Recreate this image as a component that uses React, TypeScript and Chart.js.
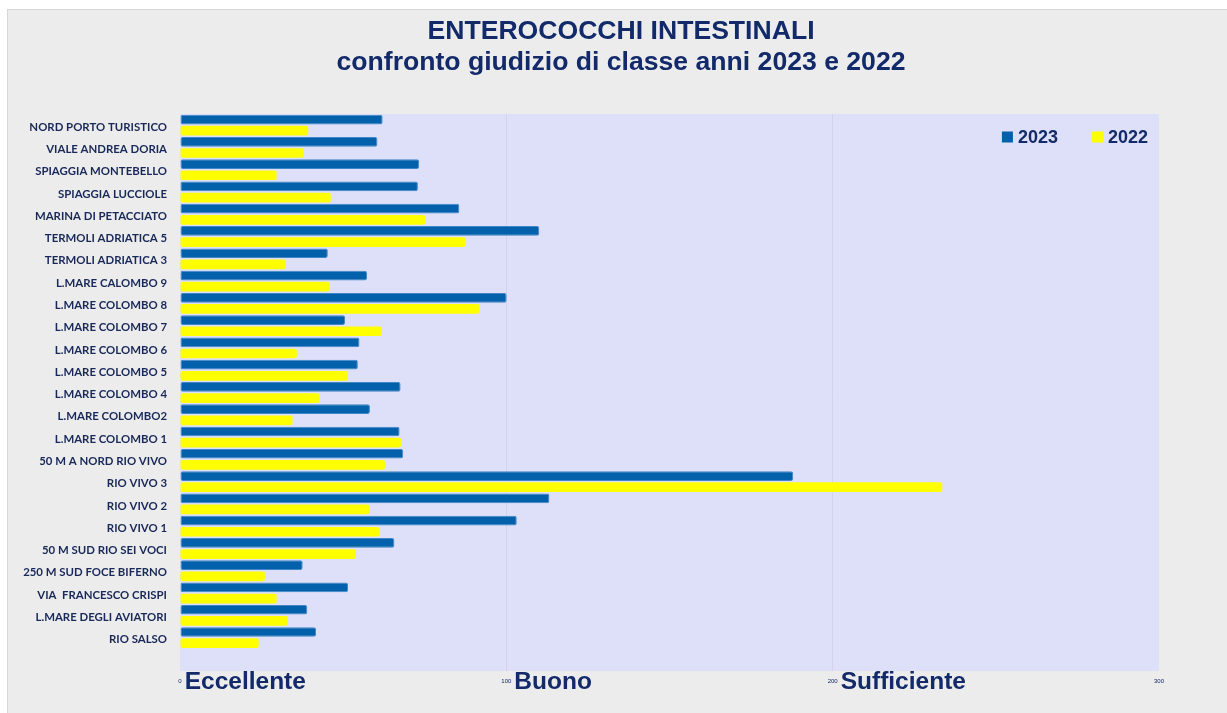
import React, { useEffect, useRef } from "react";
import { Chart, registerables } from "chart.js";

Chart.register(...registerables);

const categories = [
  "NORD PORTO TURISTICO",
  "VIALE ANDREA DORIA",
  "SPIAGGIA MONTEBELLO",
  "SPIAGGIA LUCCIOLE",
  "MARINA DI PETACCIATO",
  "TERMOLI ADRIATICA 5",
  "TERMOLI ADRIATICA 3",
  "L.MARE CALOMBO 9",
  "L.MARE COLOMBO 8",
  "L.MARE COLOMBO 7",
  "L.MARE COLOMBO 6",
  "L.MARE COLOMBO 5",
  "L.MARE COLOMBO 4",
  "L.MARE COLOMBO2",
  "L.MARE COLOMBO 1",
  "50 M A NORD RIO VIVO",
  "RIO VIVO 3",
  "RIO VIVO 2",
  "RIO VIVO 1",
  "50 M SUD RIO SEI VOCI",
  "250 M SUD FOCE BIFERNO",
  "VIA  FRANCESCO CRISPI",
  "L.MARE DEGLI AVIATORI",
  "RIO SALSO",
  "",
];

const values2023 = [
  62.1, 60.5, 73.3, 72.9, 85.6, 110.1, 45.3, 57.3, 100.1, 50.6, 55.0, 54.5,
  67.6, 58.2, 67.3, 68.4, 187.9, 113.2, 103.2, 65.7, 37.6, 51.5, 39.0, 41.7,
  null,
];

const values2022 = [
  39.3, 37.8, 29.6, 46.2, 75.2, 87.5, 32.4, 45.8, 91.7, 61.8, 35.8, 51.4,
  42.6, 34.5, 67.7, 62.8, 233.6, 58.0, 61.1, 53.9, 26.0, 29.6, 32.9, 24.1,
  null,
];

const xTicks = [0, 100, 200, 300];
const classLabels: [number, string][] = [
  [0, "Eccellente"],
  [100, "Buono"],
  [200, "Sufficiente"],
];

const titleLines = [
  "ENTEROCOCCHI INTESTINALI",
  "confronto giudizio di classe anni 2023 e 2022",
];

const NAVY = "#12296a";
const LABEL_NAVY = "#182858";

const plotBgPlugin = {
  id: "plotBg",
  beforeDraw(chart: any) {
    const { ctx, chartArea } = chart;
    ctx.save();
    ctx.fillStyle = "#dedff8";
    ctx.fillRect(
      chartArea.left,
      chartArea.top,
      chartArea.right - chartArea.left,
      chartArea.bottom - chartArea.top
    );
    ctx.restore();
  },
};

const titlePlugin = {
  id: "twoLineTitle",
  afterDraw(chart: any) {
    const { ctx } = chart;
    ctx.save();
    ctx.font = "bold 26.6px 'Liberation Sans', Arial, sans-serif";
    ctx.fillStyle = NAVY;
    ctx.textAlign = "center";
    ctx.textBaseline = "middle";
    const cx = 621;
    titleLines.forEach((line, i) => {
      ctx.fillText(line, cx, 31.5 + i * 31);
    });
    ctx.restore();
  },
};

const classLabelPlugin = {
  id: "classLabels",
  afterDraw(chart: any) {
    const { ctx, chartArea } = chart;
    const xs = chart.scales.x;
    ctx.save();
    ctx.font = "6px 'Liberation Sans', Arial, sans-serif";
    const tickWidths = classLabels.map(([v]) => ctx.measureText(String(v)).width);
    ctx.font = "bold 24.5px 'Liberation Sans', Arial, sans-serif";
    ctx.fillStyle = NAVY;
    ctx.textBaseline = "middle";
    ctx.textAlign = "left";
    classLabels.forEach(([v, word], i) => {
      const px = xs.getPixelForValue(v) + tickWidths[i] / 2 + 3;
      ctx.fillText(word, px, chartArea.bottom + 11);
    });
    ctx.restore();
  },
};

const legendPlugin = {
  id: "customLegend",
  afterDraw(chart: any) {
    const { ctx, chartArea } = chart;
    const ds = chart.data.datasets;
    ctx.save();
    ctx.font = "bold 18px 'Liberation Sans', Arial, sans-serif";
    ctx.textBaseline = "middle";
    const box = 11;
    const gap = 5;
    const itemGap = 34;
    const widths = ds.map((d: any) => box + gap + ctx.measureText(d.label).width);
    const total = widths.reduce((a: number, b: number) => a + b, 0) + itemGap * (ds.length - 1);
    let x = chartArea.right - 11 - total;
    const cy = chartArea.top + 23;
    ds.forEach((d: any, i: number) => {
      ctx.fillStyle = d.backgroundColor;
      ctx.fillRect(x, cy - box / 2, box, box);
      ctx.fillStyle = NAVY;
      ctx.textAlign = "left";
      ctx.fillText(d.label, x + box + gap, cy + 1);
      x += widths[i] + itemGap;
    });
    ctx.restore();
  },
};

export default function App() {
  const canvasRef = useRef<HTMLCanvasElement | null>(null);

  useEffect(() => {
    if (!canvasRef.current) return;
    const chart = new Chart(canvasRef.current, {
      type: "bar",
      data: {
        labels: categories,
        datasets: [
          {
            label: "2023",
            data: values2023,
            backgroundColor: "#0360aa",
            borderColor: "#3f86c8",
            borderWidth: 1,
            borderRadius: 2,
            borderSkipped: false,
          },
          {
            label: "2022",
            data: values2022,
            backgroundColor: "#ffff00",
            borderWidth: 0,
            borderRadius: 2,
            borderSkipped: false,
          },
        ],
      },
      options: {
        indexAxis: "y",
        animation: false,
        responsive: false,
        maintainAspectRatio: false,
        layout: { padding: { left: 0, right: 68, top: 114, bottom: 0 } },
        datasets: {
          bar: { categoryPercentage: 1, barPercentage: 0.87 },
        },
        scales: {
          x: {
            type: "linear",
            min: 0,
            max: 300,
            afterFit: (scale: any) => {
              scale.height = 42;
            },
            afterBuildTicks: (scale: any) => {
              scale.ticks = xTicks.map((v) => ({ value: v }));
            },
            ticks: {
              padding: 7,
              color: NAVY,
              font: { family: "'Liberation Sans', Arial, sans-serif", size: 6 },
            },
            grid: {
              display: true,
              drawTicks: false,
              color: (ctx: any) =>
                ctx.tick && (ctx.tick.value === 0 || ctx.tick.value === 300)
                  ? "rgba(0,0,0,0)"
                  : "rgba(195,195,215,0.45)",
              lineWidth: 1,
            },
            border: { display: false },
          },
          y: {
            type: "category",
            afterFit: (scale: any) => {
              scale.width = 180;
            },
            ticks: {
              padding: 13,
              labelOffset: 2,
              autoSkip: false,
              color: LABEL_NAVY,
              font: { family: "Lato, 'Open Sans', sans-serif", size: 11.4, weight: "bold" },
            },
            grid: { display: false, drawTicks: false },
            border: { display: false },
          },
        },
        plugins: {
          legend: { display: false },
          tooltip: { enabled: false },
          title: { display: false },
        },
      },
      plugins: [plotBgPlugin, titlePlugin, classLabelPlugin, legendPlugin],
    });
    return () => chart.destroy();
  }, []);

  return (
    <div
      style={{
        position: "fixed",
        left: 0,
        top: 0,
        width: 1227,
        height: 713,
        background: "#ffffff",
        overflow: "hidden",
      }}
    >
      <div
        style={{
          position: "absolute",
          left: 7,
          top: 9,
          width: 1240,
          height: 720,
          background: "#ececec",
          border: "1px solid #d6d6d6",
        }}
      />
      <canvas
        ref={canvasRef}
        width={1227}
        height={713}
        style={{ position: "absolute", left: 0, top: 0, width: 1227, height: 713 }}
      />
    </div>
  );
}
